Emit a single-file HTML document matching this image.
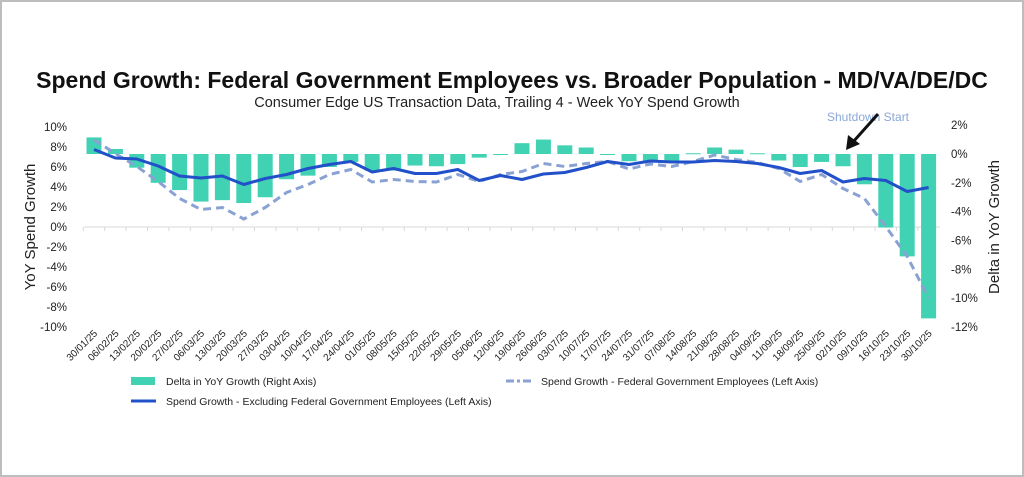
<!DOCTYPE html>
<html><head><meta charset="utf-8"><style>
html,body{margin:0;padding:0;background:#fff}
body{width:1024px;height:477px;overflow:hidden;font-family:"Liberation Sans",sans-serif}
#frame{position:absolute;left:0;top:0;width:1020px;height:473px;border:2px solid #bdbdbd}
</style></head><body>
<div id="frame"></div>
<svg id="chart" width="1024" height="477" style="position:absolute;left:0;top:0">
<text x="512" y="88" text-anchor="middle" font-size="23" font-weight="bold" fill="#111">Spend Growth: Federal Government Employees vs. Broader Population - MD/VA/DE/DC</text>
<text x="497" y="107" text-anchor="middle" font-size="14.5" fill="#222">Consumer Edge US Transaction Data, Trailing 4 - Week YoY Spend Growth</text>
<text transform="translate(35,227) rotate(-90)" text-anchor="middle" font-size="15" fill="#222">YoY Spend Growth</text>
<text transform="translate(999,227) rotate(-90)" text-anchor="middle" font-size="15" fill="#222">Delta in YoY Growth</text>
<g id="g"></g>
</svg>
<script>
const dates=["30/01/25","06/02/25","13/02/25","20/02/25","27/02/25","06/03/25","13/03/25","20/03/25","27/03/25","03/04/25","10/04/25","17/04/25","24/04/25","01/05/25","08/05/25","15/05/25","22/05/25","29/05/25","05/06/25","12/06/25","19/06/25","26/06/25","03/07/25","10/07/25","17/07/25","24/07/25","31/07/25","07/08/25","14/08/25","21/08/25","28/08/25","04/09/25","11/09/25","18/09/25","25/09/25","02/10/25","09/10/25","16/10/25","23/10/25","30/10/25"];
const delta=[1.15,0.35,-0.95,-2.0,-2.5,-3.3,-3.2,-3.4,-3.0,-1.75,-1.5,-0.9,-0.55,-1.15,-1.15,-0.8,-0.85,-0.7,-0.25,-0.05,0.75,1.0,0.6,0.45,-0.03,-0.5,-0.5,-0.55,0.05,0.45,0.3,0.05,-0.45,-0.9,-0.55,-0.85,-2.1,-5.1,-7.1,-11.4];
const exFed=[7.75,6.9,6.8,6.1,5.1,4.9,5.1,4.25,4.85,5.25,5.85,6.25,6.55,5.5,5.85,5.35,5.35,5.75,4.65,5.15,4.75,5.3,5.45,5.95,6.55,6.25,6.6,6.5,6.5,6.65,6.55,6.35,5.95,5.35,5.65,4.5,4.85,4.65,3.55,3.95];
const fed=[8.7,7.35,6.05,4.55,2.85,1.75,1.95,0.8,1.95,3.45,4.25,5.25,5.75,4.5,4.75,4.55,4.5,5.25,4.55,5.25,5.55,6.35,6.05,6.35,6.55,5.8,6.3,6.05,6.55,7.2,6.75,6.45,5.85,4.55,5.25,3.85,2.85,0.05,-2.95,-7.1];
const leftTicks=[10,8,6,4,2,0,-2,-4,-6,-8,-10];
const rightTicks=[2,0,-2,-4,-6,-8,-10,-12];
const NS="http://www.w3.org/2000/svg",g=document.getElementById('g');
const xs=i=>94+i*21.4, yl=v=>227-v*10, yr=v=>154-v*14.42;
function mk(t,a,p){const e=document.createElementNS(NS,t);for(const k in a)e.setAttribute(k,a[k]);(p||g).appendChild(e);return e;}
// zero line + ticks
let zl=mk('line',{x1:84,x2:940,y1:227,y2:227,stroke:'#d8d8d8','stroke-width':1});


dates.forEach((d,i)=>{
 let tk=mk('line',{x1:xs(i)-10.7,x2:xs(i)-10.7,y1:227,y2:231,stroke:'#d8d8d8'});
 
 
 let t=mk('text',{transform:`translate(${xs(i)+4},334) rotate(-45)`,'text-anchor':'end','font-size':10,fill:'#222'});
 t.textContent=d;
 
 
});
leftTicks.forEach(v=>{let t=mk('text',{x:67,y:yl(v)+4,'text-anchor':'end','font-size':11.5,fill:'#222'});t.textContent=v+'%';
 
 });
rightTicks.forEach(v=>{let t=mk('text',{x:951,y:yr(v)+4,'font-size':11.5,fill:'#222'});t.textContent=v+'%';
 
 });
delta.forEach((v,i)=>{const y0=yr(0),y1=yr(v);
 let r=mk('rect',{x:xs(i)-7.5,width:15,y:Math.min(y0,y1),height:Math.max(1,Math.abs(y1-y0)),fill:'#40d2b2'});
 
 });
let pf=mk('polyline',{points:fed.map((v,i)=>xs(i)+','+yl(v)).join(' '),fill:'none',stroke:'#8aa2d3','stroke-width':3,'stroke-dasharray':'8,5'});


let pe=mk('polyline',{points:exFed.map((v,i)=>xs(i)+','+yl(v)).join(' '),fill:'none',stroke:'#2150c9','stroke-width':3,'stroke-linejoin':'round'});


// annotation
let at=mk('text',{x:868,y:121,'text-anchor':'middle','font-size':12,fill:'#8aa8d8'});at.textContent='Shutdown Start';


let al=mk('line',{x1:878,y1:114,x2:853,y2:142,stroke:'#111','stroke-width':3});


let ah=mk('polygon',{points:'846,150 848,135 860,144',fill:'#111'});


// legend
function leg(x,y,type,label){
 let s;
 if(type=='bar')s=mk('rect',{x:x,y:y-4,width:24,height:8,fill:'#40d2b2'});
 else s=mk('line',{x1:x,x2:x+25,y1:y,y2:y,stroke:type=='solid'?'#2150c9':'#8aa2d3','stroke-width':3,'stroke-dasharray':type=='solid'?'none':'8,3,3,3'});
 
 
 let t=mk('text',{x:x+35,y:y+4,'font-size':10.5,fill:'#222'});t.textContent=label;
 
 
}
leg(131,381,'bar','Delta in YoY Growth (Right Axis)');
leg(131,401,'solid','Spend Growth - Excluding Federal Government Employees (Left Axis)');
leg(506,381,'dash','Spend Growth - Federal Government Employees (Left Axis)');
</script>
</body></html>
